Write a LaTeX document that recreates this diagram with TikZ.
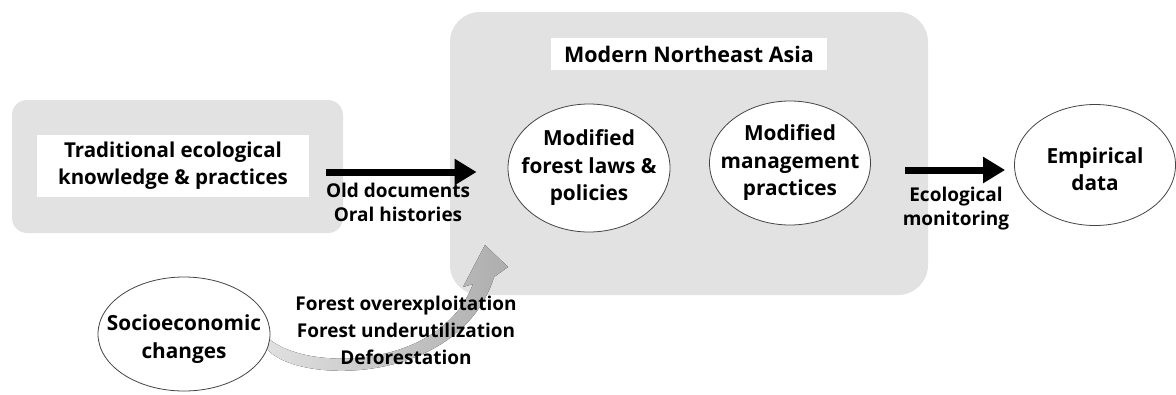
\documentclass[tikz,border=0pt]{standalone}
\usepackage{fontspec}
\setmainfont{Open Sans}[BoldFont={* Bold}]
\usetikzlibrary{arrows.meta,shapes.geometric}
\definecolor{panel}{HTML}{E2E2E2}
\definecolor{rim}{HTML}{444444}
\tikzset{
  panelbox/.style={fill=panel, draw=none, rounded corners=15pt, inner sep=0pt},
  labelbox/.style={fill=white, draw=none, inner sep=0pt, align=center,
    font=\bfseries\fontsize{20.5}{27}\selectfont},
  oval/.style={ellipse, draw=rim, line width=0.8pt, fill=white, inner sep=0pt},
  ovaltext/.style={align=center, inner sep=0pt,
    font=\bfseries\fontsize{20.8}{27.5}\selectfont},
  caption/.style={align=center, inner sep=0pt, font=\bfseries\fontsize{19}{24}\selectfont},
  bigarrow/.style={line width=7pt, -{Triangle[length=22pt,width=25pt]}},
}
\begin{document}
\begin{tikzpicture}[x=1pt,y=-1pt]
\useasboundingbox (0,0) rectangle (1176,394);

% panels
\node[panelbox, minimum width=331pt, minimum height=133pt] (tekpanel) at (177.5,166.5) {};
\node[panelbox, rounded corners=30pt, minimum width=478pt, minimum height=283pt] (neapanel) at (689,153.5) {};

% curved grey arrow from socioeconomic changes into the modern panel
\coordinate (ctip) at (485,245);
\fill[left color=black!12, right color=black!32, draw=none]
  (266,336) .. controls (300,372) and (440,372) .. (473,284)
  -- (463,287) -- (ctip) -- (508,267) -- (494,277)
  .. controls (460,385) and (300,385) .. (268,350) -- cycle;

% titled boxes
\node[labelbox, minimum width=272pt, minimum height=62pt] (tek) at (173,166)
  {Traditional ecological\\knowledge \& practices};
\node[labelbox, font=\bfseries\fontsize{21.5}{27}\selectfont,
  minimum width=276pt, minimum height=32pt] (neatitle) at (689,54)
  {Modern Northeast Asia};

% ellipses
\node[oval, minimum width=162pt, minimum height=128pt,
  label={[ovaltext]center:Modified\\forest laws \&\\policies}] (laws) at (589,168) {};
\node[oval, minimum width=161pt, minimum height=124pt,
  label={[ovaltext]center:Modified\\management\\practices}] (mgmt) at (790,163) {};
\node[oval, minimum width=161pt, minimum height=121pt,
  label={[ovaltext, yshift=-4pt]center:Empirical\\data}] (emp) at (1095,165) {};
\node[oval, minimum width=172pt, minimum height=114pt,
  label={[ovaltext, yshift=-5pt]center:Socioeconomic\\changes}] (socio) at (184,334) {};

% black arrows
\draw[bigarrow, shorten <=-17pt, shorten >=31pt] (tekpanel.east |- 0,172) -- (laws.west |- 0,172);
\draw[bigarrow, shorten <=-23pt, shorten >=9pt] (neapanel.east |- 0,170) -- (emp.west |- 0,170);

% captions
\node[caption] (oldoc) at (398,202) {Old documents\\Oral histories};
\node[caption] (ecomon) at (956,208.5) {Ecological\\monitoring};
\node[caption, font=\bfseries\fontsize{19}{27}\selectfont] (changes) at (406,330)
  {Forest overexploitation\\Forest underutilization\\Deforestation};
\end{tikzpicture}
\end{document}
